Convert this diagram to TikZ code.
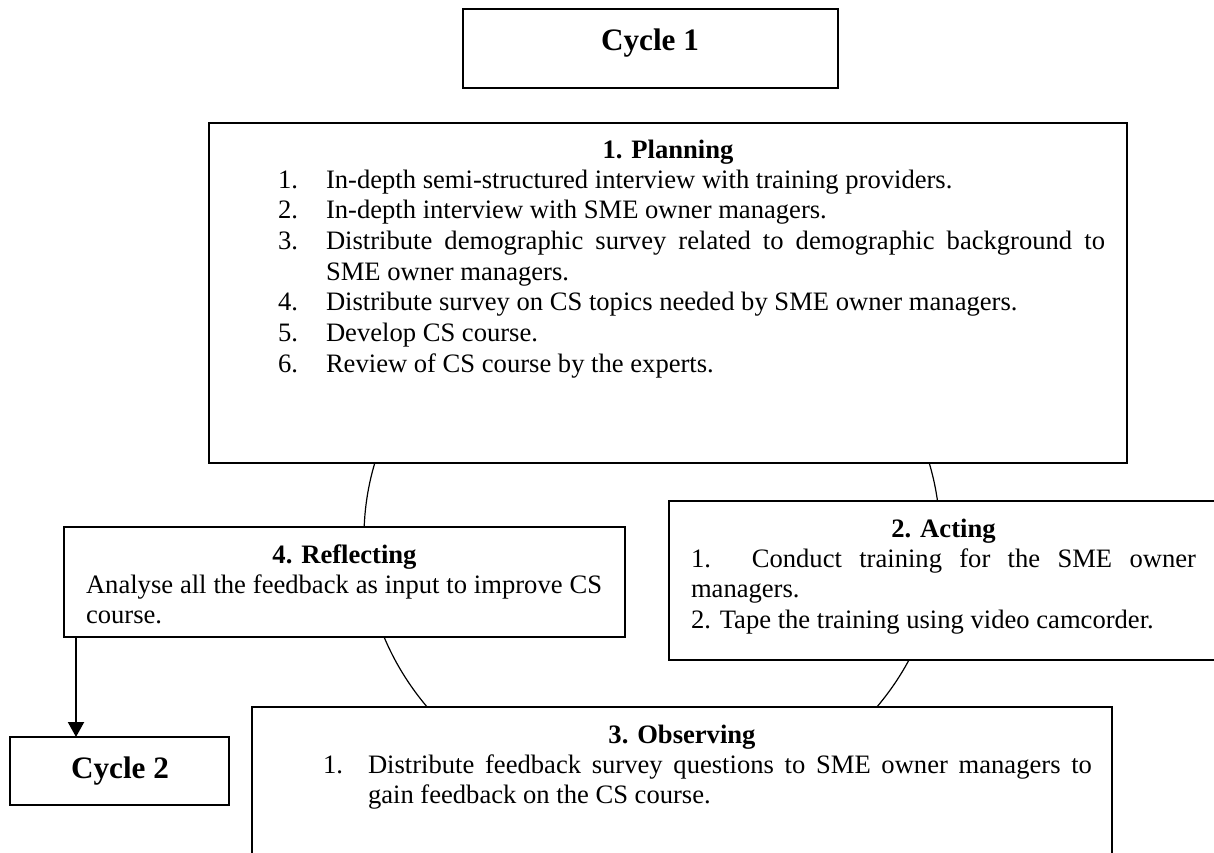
\documentclass[tikz,border=0pt]{standalone}
\usepackage{fontspec}
\setmainfont{Liberation Serif}
\usetikzlibrary{arrows.meta}
\tikzset{
  box/.style={draw, fill=white, line width=0.65pt, inner sep=0pt, outer sep=0pt, anchor=north west},
  txt/.style={inner sep=0pt, outer sep=0pt, anchor=base west, font=\fontsize{13.3}{15.35}\selectfont},
  ttl/.style={inner sep=0pt, outer sep=0pt, anchor=base, font=\fontsize{13.3}{15.35}\selectfont\bfseries},
  big/.style={inner sep=0pt, outer sep=0pt, anchor=base, font=\fontsize{15.6}{18}\selectfont\bfseries},
  ring/.style={draw, line width=0.6pt},
  arr/.style={line width=1pt, -{Triangle[width=8pt,length=7.5pt]}}
}
\begin{document}
\begin{tikzpicture}[x=0.5pt, y=-0.5pt]
\useasboundingbox (0,0) rectangle (1214,852);
\clip (0,0) rectangle (1214,852);
% cycle ring behind the boxes
\draw[ring] (652,537) ellipse [x radius=144pt, y radius=136pt];
% boxes
\node[box, minimum width=187.5pt, minimum height=39.5pt] (cyc1) at (463,9) {};
\node[box, minimum width=459pt, minimum height=170pt] (plan) at (209,123) {};
\node[box, minimum width=280.5pt, minimum height=55pt] (refl) at (64,527) {};
\node[box, minimum width=274.5pt, minimum height=79.5pt] (act) at (669,501) {};
\node[box, minimum width=430pt, minimum height=96.5pt] (obs) at (252,707) {};
\node[box, minimum width=109.5pt, minimum height=34pt] (cyc2) at (10,737) {};
% arrow to cycle 2
\draw[arr] ([xshift=6pt]refl.south west) -- ([xshift=6pt]refl.south west |- cyc2.north);
% Cycle labels
\node[big] (c1t) at (650,50) {Cycle 1};
\node[big] (c2t) at (120,778) {Cycle 2};
% Planning
\node[ttl] (pt) at (668,158) {1. Planning};
\node[txt] (pn1) at (278,188) {1.};
\node[txt] (pl1) at (326,188) {In-depth semi-structured interview with training providers.};
\node[txt] (pn2) at (278,218.7) {2.};
\node[txt] (pl2) at (326,218.7) {In-depth interview with SME owner managers.};
\node[txt] (pn3) at (278,249.4) {3.};
\node[txt] (pl3) at (326,249.4) {\makebox[389.5pt][s]{Distribute demographic survey related to demographic background to}};
\node[txt] (pl3b) at (326,280.1) {SME owner managers.};
\node[txt] (pn4) at (278,310.8) {4.};
\node[txt] (pl4) at (326,310.8) {Distribute survey on CS topics needed by SME owner managers.};
\node[txt] (pn5) at (278,341.5) {5.};
\node[txt] (pl5) at (326,341.5) {Develop CS course.};
\node[txt] (pn6) at (278,372.2) {6.};
\node[txt] (pl6) at (326,372.2) {Review of CS course by the experts.};
% Acting
\node[ttl] (at) at (943.5,537) {2. Acting};
\node[txt] (al1) at (691,567) {\makebox[252.5pt][s]{1. Conduct training for the SME owner}};
\node[txt] (al2) at (691,597.5) {managers.};
\node[txt] (al3) at (691,628) {2. Tape the training using video camcorder.};
% Reflecting
\node[ttl] (rt) at (344.5,563) {4. Reflecting};
\node[txt] (rl1) at (86,593) {\makebox[258pt][s]{Analyse all the feedback as input to improve CS}};
\node[txt] (rl2) at (86,623) {course.};
% Observing
\node[ttl] (ot) at (682,743) {3. Observing};
\node[txt] (on1) at (323,773) {1.};
\node[txt] (ol1) at (368,773) {\makebox[362pt][s]{Distribute feedback survey questions to SME owner managers to}};
\node[txt] (ol2) at (368,803) {gain feedback on the CS course.};
\end{tikzpicture}
\end{document}
